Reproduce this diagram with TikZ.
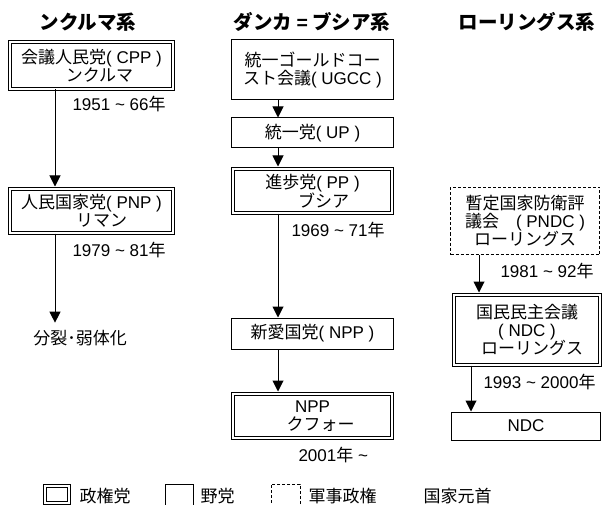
\documentclass[tikz,border=0pt]{standalone}
\usepackage{fontspec}
\setmainfont{Noto Sans CJK JP}
\newfontfamily\latfont{Liberation Sans}
\newcommand{\lat}[1]{{\latfont #1}}
\usetikzlibrary{arrows.meta}

\tikzset{
  govbox/.style={draw, double, double distance=2pt, inner sep=0pt, align=center,
    minimum width=159pt},
  oppbox/.style={draw, inner sep=0pt, align=center, minimum width=162pt},
  milbox/.style={draw, dash pattern=on 3pt off 2pt, inner sep=0pt, align=center},
  arr/.style={-{Triangle[width=11pt,length=11pt]}},
  title/.style={font=\fontsize{19.5}{22}\selectfont\bfseries},
  date/.style={anchor=west, inner sep=0pt}
}

\begin{document}
\begin{tikzpicture}[x=1pt, y=-1pt, line width=1pt,
  font=\fontsize{17}{18}\selectfont]
  \useasboundingbox[fill=white] (0,0) rectangle (602,505);

  % titles
  \node[title] (tA) at (88,22) {ンクルマ系};
  \node[title] (tB) at (312,22) {ダンカ \lat{=} ブシア系};
  \node[title] (tC) at (527,22) {ローリングス系};

  % Nkrumah line
  \node[govbox, minimum width=163pt, minimum height=47pt] (cpp) at (91.5,65.5)
    {会議人民党\lat{( CPP )}\\\hspace*{16pt}ンクルマ};
  \node[govbox, minimum width=163pt, minimum height=44pt] (pnp) at (91.5,211)
    {人民国家党\lat{( PNP )}\\\hspace*{20pt}リマン};
  \node[inner sep=0pt] (split) at (80,338) {分裂･弱体化};
  \node[date] (dA1) at (72,104) {\lat{1951 \textasciitilde{} 66}年};
  \node[date] (dA2) at (72,250) {\lat{1979 \textasciitilde{} 81}年};

  \coordinate (colA) at (55,0);
  \draw[arr, shorten >=2pt] (cpp.south -| colA) -- (pnp.north -| colA);
  \draw[arr, shorten >=7pt] (pnp.south -| colA) -- (split.north -| colA);

  % Danquah-Busia line
  \node[oppbox, minimum height=60pt] (ugcc) at (312.5,70)
    {統一ゴールドコー\\スト会議\lat{( UGCC )}};
  \node[oppbox, minimum height=30pt] (up) at (312.5,133) {統一党\lat{( UP )}};
  \node[govbox, minimum height=44pt] (pp) at (312.5,191)
    {進歩党\lat{( PP )}\\\hspace*{22pt}ブシア};
  \node[oppbox, minimum height=31pt] (npp) at (312.5,333.5) {新愛国党\lat{( NPP )}};
  \node[govbox, minimum height=44pt] (kuf) at (312.5,416)
    {\lat{NPP}\\\hspace*{16pt}クフォー};
  \node[date] (dB1) at (291,230) {\lat{1969 \textasciitilde{} 71}年};
  \node[date] (dB2) at (298,455) {\lat{2001}年\lat{ \textasciitilde}};

  \coordinate (colB) at (278,0);
  \draw[arr] (ugcc.south -| colB) -- (up.north -| colB);
  \draw[arr, shorten >=2pt] (up.south -| colB) -- (pp.north -| colB);
  \draw[arr] (pp.south -| colB) -- (npp.north -| colB);
  \draw[arr, shorten >=2pt] (npp.south -| colB) -- (kuf.north -| colB);

  % Rawlings line
  \node[milbox, minimum width=149pt, minimum height=67pt] (pndc) at (525,221)
    {暫定国家防衛評\\議会　\lat{( PNDC )}\\ローリングス};
  \node[govbox, minimum width=146pt, minimum height=70pt] (ndc) at (527,330)
    {国民民主会議\\\lat{( NDC )}\\\hspace*{10pt}ローリングス};
  \node[oppbox, minimum width=149pt, minimum height=28pt] (ndcb) at (526,426) {\lat{NDC}};
  \node[date] (dC1) at (500,271) {\lat{1981 \textasciitilde{} 92}年};
  \node[date] (dC2) at (483,382) {\lat{1993 \textasciitilde{} 2000}年};

  \coordinate (colC) at (479,0);
  \coordinate (colD) at (471,0);
  \draw[arr, shorten >=2pt] (pndc.south -| colC) -- (ndc.north -| colC);
  \draw[arr] (ndc.south -| colD) -- (ndcb.north -| colD);

  % legend
  \node[govbox, minimum width=24pt, minimum height=17pt] (lgov) at (57,494.5) {};
  \node[date] (lgovt) at (79,496) {政権党};
  \node[oppbox, minimum width=28pt, minimum height=21pt] (lopp) at (179,494.5) {};
  \node[date] (loppt) at (200,496) {野党};
  \node[milbox, minimum width=29pt, minimum height=21pt] (lmil) at (285.5,494.5) {};
  \node[date] (lmilt) at (308,496) {軍事政権};
  \node[date] (lhead) at (423,496) {国家元首};
\end{tikzpicture}
\end{document}
